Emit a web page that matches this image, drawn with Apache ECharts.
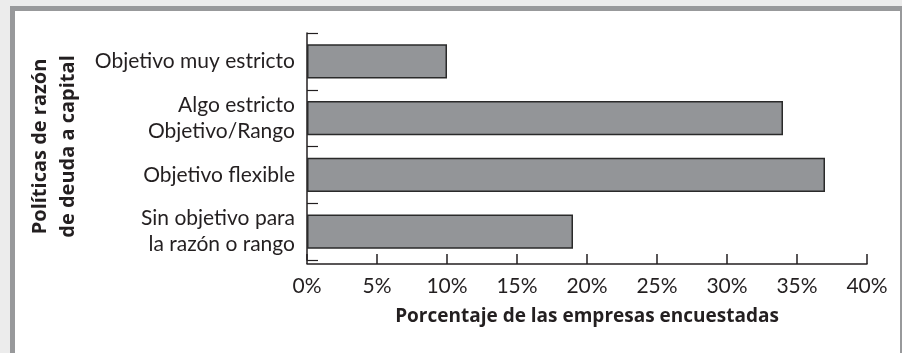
<!DOCTYPE html>
<html>
<head>
<meta charset="utf-8">
<script src="https://cdn.jsdelivr.net/npm/echarts@6/dist/echarts.min.js"></script>
<style>
  html, body { margin: 0; padding: 0; width: 902px; height: 353px; background: #ececec; overflow: hidden; }
  #frame { position: absolute; left: 10px; top: 6px; width: 885px; height: 360px; background: #fff;
           border-top: 5px solid #98999b; border-left: 5px solid #98999b; border-right: 2px solid #98999b; }
  #chart { position: absolute; left: 0; top: 0; width: 902px; height: 353px; }
</style>
</head>
<body>
<div id="frame"></div>
<div id="chart"></div>
<script>
const categories = [
  'Objetivo muy estricto',
  'Algo estricto\nObjetivo/Rango',
  'Objetivo flexible',
  'Sin objetivo para\nla razón o rango'
];
const values = [10, 34, 37, 19];
const xTicks = [0, 5, 10, 15, 20, 25, 30, 35, 40];
const xTitle = 'Porcentaje de las empresas encuestadas';
const yTitle = 'Políticas de razón\nde deuda a capital';

const ink = '#231f20';
const labelFont = 'Lato';
const titleFont = 'Open Sans';
const chart = echarts.init(document.getElementById('chart'), null, { renderer: 'canvas' });
chart.setOption({
  backgroundColor: 'transparent',
  animation: false,
  grid: { left: 307, right: 35, top: 33, bottom: 93, containLabel: false },
  xAxis: {
    type: 'value',
    min: xTicks[0], max: xTicks[xTicks.length - 1], interval: xTicks[1] - xTicks[0],
    offset: 4,
    axisLine: { show: true, lineStyle: { color: ink, width: 1.5 } },
    axisTick: { show: true, inside: true, length: 10, lineStyle: { color: ink, width: 1.5 } },
    splitLine: { show: false },
    axisLabel: { formatter: '{value}%', fontFamily: labelFont, fontSize: 21, lineHeight: 21, color: ink, margin: 12 },
    name: xTitle, nameLocation: 'middle', nameGap: 43,
    nameTextStyle: { fontFamily: titleFont, fontSize: 19, fontWeight: 'bold', color: ink, lineHeight: 19 }
  },
  yAxis: {
    type: 'category', data: categories, inverse: true,
    axisLine: { show: true, lineStyle: { color: ink, width: 1.5 } },
    axisTick: { show: true, inside: true, length: 11, alignWithLabel: false, lineStyle: { color: ink, width: 1.2 } },
    axisLabel: { fontFamily: labelFont, fontSize: 21, lineHeight: 26, color: ink, margin: 12, align: 'right' },
    name: yTitle, nameLocation: 'middle', nameRotate: 90, nameGap: 225,
    nameTextStyle: { fontFamily: titleFont, fontSize: 20, fontWeight: 'bold', color: ink, lineHeight: 28, align: 'center' }
  },
  series: [{
    type: 'bar', data: values, barWidth: '60%',
    itemStyle: { color: '#939598', borderColor: '#2a2a2a', borderWidth: 1.5 }
  }]
});
</script>
</body>
</html>
